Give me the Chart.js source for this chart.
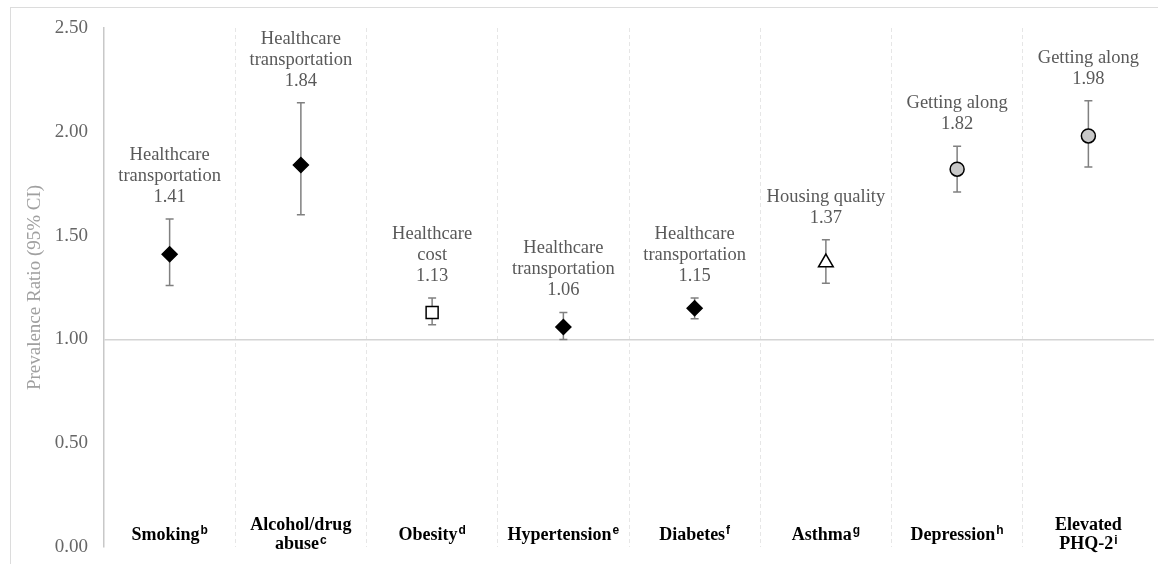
<!DOCTYPE html>
<html>
<head>
<meta charset="utf-8">
<title>Prevalence Ratio</title>
<script src="https://cdn.jsdelivr.net/npm/chart.js@4.4.1/dist/chart.umd.min.js"></script>
<style>
    html, body { margin: 0; padding: 0; background: #fff; }
    #wrap { position: relative; width: 1158px; height: 564px; overflow: hidden; }
    #frame { position: absolute; left: 10px; top: 7px; width: 1200px; height: 600px;
             border-left: 1px solid #dcdcdc; border-top: 1px solid #dcdcdc; pointer-events: none; }
</style>
</head>
<body>
<div id="wrap">
    <canvas id="prChart" width="1158" height="564"></canvas>
    <div id="frame"></div>
</div>
<script>
// Datos del gráfico
const categorias = [['Smoking'], ['Alcohol/drug', 'abuse'], ['Obesity'], ['Hypertension'], ['Diabetes'], ['Asthma'], ['Depression'], ['Elevated', 'PHQ-2']];
const notas = ['b', 'c', 'd', 'e', 'f', 'g', 'h', 'i'];
const dominios = [
    ['Healthcare', 'transportation'],
    ['Healthcare', 'transportation'],
    ['Healthcare', 'cost'],
    ['Healthcare', 'transportation'],
    ['Healthcare', 'transportation'],
    ['Housing quality'],
    ['Getting along'],
    ['Getting along']
];
const razon = [1.41, 1.84, 1.13, 1.06, 1.15, 1.37, 1.82, 1.98];
const icInferior = [1.26, 1.60, 1.07, 1.00, 1.10, 1.27, 1.71, 1.83];
const icSuperior = [1.58, 2.14, 1.20, 1.13, 1.20, 1.48, 1.93, 2.15];
const ticksY = [0, 0.5, 1, 1.5, 2, 2.5];

// Estilos de los marcadores
const marcadores = ['rectRot', 'rectRot', 'rect', 'rectRot', 'rectRot', 'triangle', 'circle', 'circle'];
const rellenos = ['#000', '#000', '#fff', '#000', '#000', '#fff', '#c8c8c8', '#c8c8c8'];
const radios = [7.5, 7.5, 8.5, 7.5, 7.5, 8.5, 7, 7];

const serif = "'Liberation Serif', 'Times New Roman', serif";
const sans = "'Liberation Sans', Arial, sans-serif";

const puntos = razon.map((v, i) => ({ x: i + 0.5, y: v }));

// Barras de error (debajo de los marcadores)
const barrasError = {
    id: 'barrasError',
    beforeDatasetsDraw(chart) {
        const ctx = chart.ctx;
        const xs = chart.scales.x;
        const ys = chart.scales.y;
        ctx.save();
        ctx.strokeStyle = '#808080';
        ctx.lineWidth = 1.5;
        razon.forEach((v, i) => {
            const x = xs.getPixelForValue(i + 0.5);
            const y1 = ys.getPixelForValue(icInferior[i]);
            const y2 = ys.getPixelForValue(icSuperior[i]);
            ctx.beginPath();
            ctx.moveTo(x, y1); ctx.lineTo(x, y2);
            ctx.moveTo(x - 4, y1); ctx.lineTo(x + 4, y1);
            ctx.moveTo(x - 4, y2); ctx.lineTo(x + 4, y2);
            ctx.stroke();
        });
        ctx.restore();
    }
};

// Etiquetas de dominio y categorías
const etiquetas = {
    id: 'etiquetas',
    afterDatasetsDraw(chart) {
        const ctx = chart.ctx;
        const xs = chart.scales.x;
        const ys = chart.scales.y;
        const area = chart.chartArea;
        ctx.save();
        ctx.textAlign = 'center';
        ctx.textBaseline = 'middle';

        ctx.fillStyle = '#595959';
        ctx.font = '18.5px ' + serif;
        razon.forEach((v, i) => {
            const x = xs.getPixelForValue(i + 0.5);
            const lineas = dominios[i].concat([v.toFixed(2)]);
            let y = ys.getPixelForValue(icSuperior[i]) - 22;
            for (let k = lineas.length - 1; k >= 0; k--) {
                ctx.fillText(lineas[k], x, y);
                y -= 21;
            }
        });

        ctx.fillStyle = '#000';
        categorias.forEach((lineas, i) => {
            const x = xs.getPixelForValue(i + 0.5);
            const alto = 19;
            let y = area.bottom - 12 - (lineas.length - 1) * alto / 2;
            lineas.forEach((txt, k) => {
                const ultima = k === lineas.length - 1;
                ctx.font = 'bold 18px ' + serif;
                const ancho = ctx.measureText(txt).width;
                let anchoSup = 0;
                if (ultima) {
                    ctx.font = 'bold 12px ' + sans;
                    anchoSup = ctx.measureText(notas[i]).width + 1;
                }
                const x0 = x - (ancho + anchoSup) / 2;
                ctx.textAlign = 'left';
                ctx.font = 'bold 18px ' + serif;
                ctx.fillText(txt, x0, y);
                if (ultima) {
                    ctx.font = 'bold 12px ' + sans;
                    ctx.fillText(notas[i], x0 + ancho + 1, y - 4);
                }
                y += alto;
            });
        });
        ctx.restore();
    }
};

const ctx = document.getElementById('prChart').getContext('2d');

new Chart(ctx, {
    type: 'scatter',
    data: {
        datasets: [{
            data: puntos,
            pointStyle: marcadores,
            backgroundColor: rellenos,
            borderColor: '#000',
            borderWidth: 1.5,
            pointRadius: radios,
            pointHoverRadius: radios
        }]
    },
    options: {
        responsive: false,
        animation: false,
        layout: { autoPadding: false, padding: { top: 28, right: 4, bottom: 17, left: 0 } },
        plugins: {
            legend: { display: false },
            tooltip: { enabled: false }
        },
        scales: {
            x: {
                type: 'linear',
                min: 0,
                max: categorias.length,
                afterFit: (scale) => { scale.height = 0; },
                ticks: { display: false, stepSize: 1 },
                border: { display: false, dash: [4, 3] },
                grid: {
                    drawTicks: false,
                    color: (c) => (c.tick.value === 0 || c.tick.value === categorias.length) ? 'transparent' : '#e6e6e6',
                    lineWidth: 1
                }
            },
            y: {
                min: 0,
                max: 2.5,
                afterBuildTicks: (scale) => { scale.ticks = ticksY.map(v => ({ value: v })); },
                afterFit: (scale) => {
                    scale.width = 104;
                    scale.paddingTop = 0;
                    scale.paddingBottom = 0;
                },
                ticks: {
                    padding: 16,
                    color: '#666',
                    font: { family: serif, size: 19 },
                    callback: (v) => Number(v).toFixed(2)
                },
                border: { display: true, color: '#c8c8c8', width: 1.5 },
                grid: {
                    drawTicks: false,
                    color: (c) => c.tick.value === 1 ? '#d4d4d4' : 'transparent',
                    lineWidth: 1.5
                },
                title: {
                    display: true,
                    text: 'Prevalence Ratio (95% CI)',
                    color: '#a0a0a0',
                    font: { family: serif, size: 19 },
                    padding: { top: 24, bottom: 0 }
                }
            }
        }
    },
    plugins: [barrasError, etiquetas]
});
</script>
</body>
</html>
